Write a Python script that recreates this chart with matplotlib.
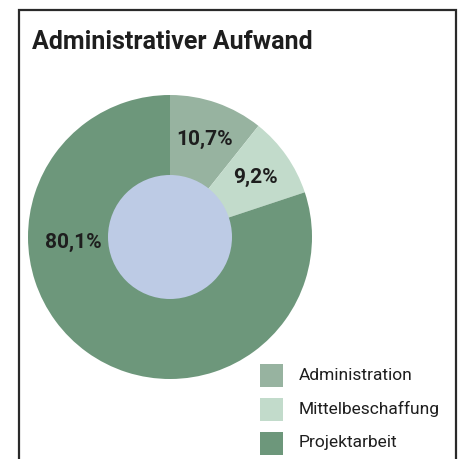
import matplotlib
matplotlib.use('Agg')
import matplotlib.pyplot as plt
from matplotlib.patches import Circle, Rectangle
import numpy as np

#
# Data
title = 'Administrativer Aufwand'
categories = ['Administration', 'Mittelbeschaffung', 'Projektarbeit']
shares = [10.7, 9.2, 80.1]
colors = ['#97b3a0', '#c2dbcb', '#6d977b']

plt.rcParams['font.family'] = ['Roboto', 'DejaVu Sans']

W, H = 465, 459
fig = plt.figure(figsize=(W / 100, H / 100), dpi=100)
ax = fig.add_axes([0, 0, 1, 1])

#
# Frame around the card (runs off the bottom edge)
ax.add_patch(Rectangle((19, -10), 437, H - 10 + 10, fill=False,
                       edgecolor='#2a2a2a', linewidth=1.6))

ax.text(32, H - 42, title, fontsize=18, fontweight='bold', color='#1e1e1e',
        va='center', ha='left')

#
# Donut
cx, cy, r = 170, H - 237, 142
wedges, _, autotexts = ax.pie(
    shares, colors=colors, startangle=90, counterclock=False,
    center=(cx, cy), radius=r, frame=True,
    autopct=lambda p: f'{p:.1f}%'.replace('.', ','), pctdistance=0.73,
    wedgeprops=dict(linewidth=0),
    textprops=dict(fontsize=15, fontweight='bold', color='#1e1e1e'))
ax.set_xlim(0, W)
ax.set_ylim(0, H)
ax.set_aspect('equal')
ax.axis('off')

# big slice label sits left of the hole, not at its midpoint
ang = np.deg2rad(183)
autotexts[2].set_position((cx + 97 * np.cos(ang), cy + 97 * np.sin(ang)))

ax.add_patch(Circle((cx, cy), 62, facecolor='#bdcbe5', edgecolor='none'))

#
# Legend
for i, (lab, col) in enumerate(zip(categories, colors)):
    y = H - (375 + i * 34)
    ax.add_patch(Rectangle((260, y - 11.5), 23, 23, facecolor=col, edgecolor='none'))
    ax.text(299, y, lab, fontsize=12.5, color='#1e1e1e', va='center', ha='left')

fig.savefig('out.png', dpi=100)
